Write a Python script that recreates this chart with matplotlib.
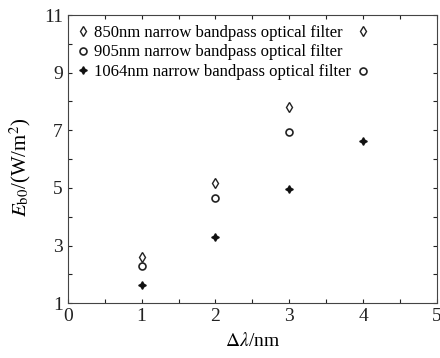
import matplotlib
matplotlib.use("Agg")
import matplotlib.pyplot as plt

# data
bandwidth = [1, 2, 3, 4]
e_850 = [2.62, 5.18, 7.80, 10.45]
e_905 = [2.29, 4.64, 6.95, 9.05]
e_1064 = [1.62, 3.29, 4.95, 6.64]
labels = ["850nm narrow bandpass optical filter",
          "905nm narrow bandpass optical filter",
          "1064nm narrow bandpass optical filter"]
x_ticks = [0, 1, 2, 3, 4, 5]
y_ticks = [1, 3, 5, 7, 9, 11]


def main():
    plt.rcParams['font.family'] = ['Liberation Serif', 'DejaVu Serif']
    plt.rcParams['mathtext.fontset'] = 'stix'

    fig = plt.figure(figsize=(4.4, 3.58), dpi=100)
    ax = fig.add_axes([0.154, 0.153, 0.839, 0.805])

    ax.plot(bandwidth, e_850, linestyle='none', marker='d', markersize=5.5,
            markerfacecolor='white', markeredgecolor='#222222', mew=1.0,
            label=labels[0])
    ax.plot(bandwidth, e_905, linestyle='none', marker='o', markersize=5,
            markerfacecolor='white', markeredgecolor='#222222', mew=1.2,
            label=labels[1])
    ax.plot(bandwidth, e_1064, linestyle='none', marker=(4, 1, 0),
            markersize=5.5, color='#111111', label=labels[2])

    ax.set_xlim(0, 5)
    ax.set_ylim(1, 11)
    ax.set_xticks(x_ticks)
    ax.set_xticks([v + 0.5 for v in x_ticks[:-1]], minor=True)
    ax.set_yticks(y_ticks)
    ax.set_yticks([v + 1 for v in y_ticks[:-1]], minor=True)
    ax.tick_params(which='both', direction='in', top=True, right=True,
                   labelsize=14, colors='#222222', width=0.8, length=3)
    for s in ax.spines.values():
        s.set_color('#444444')
        s.set_linewidth(0.8)

    ax.set_xlabel(r'$\Delta\lambda$/nm', fontsize=14, labelpad=5)
    ax.set_ylabel(r'$E_{\mathrm{b0}}$/(W/m$^2$)', fontsize=15)
    ax.yaxis.set_label_coords(-0.095, 0.47)

    ax.legend(loc='upper left', frameon=False, fontsize=12,
              handlelength=0.6, handletextpad=0.4, labelspacing=0.2,
              borderaxespad=0.2, borderpad=0.4)

    fig.savefig("out.png", dpi=100)


if __name__ == "__main__":
    main()
